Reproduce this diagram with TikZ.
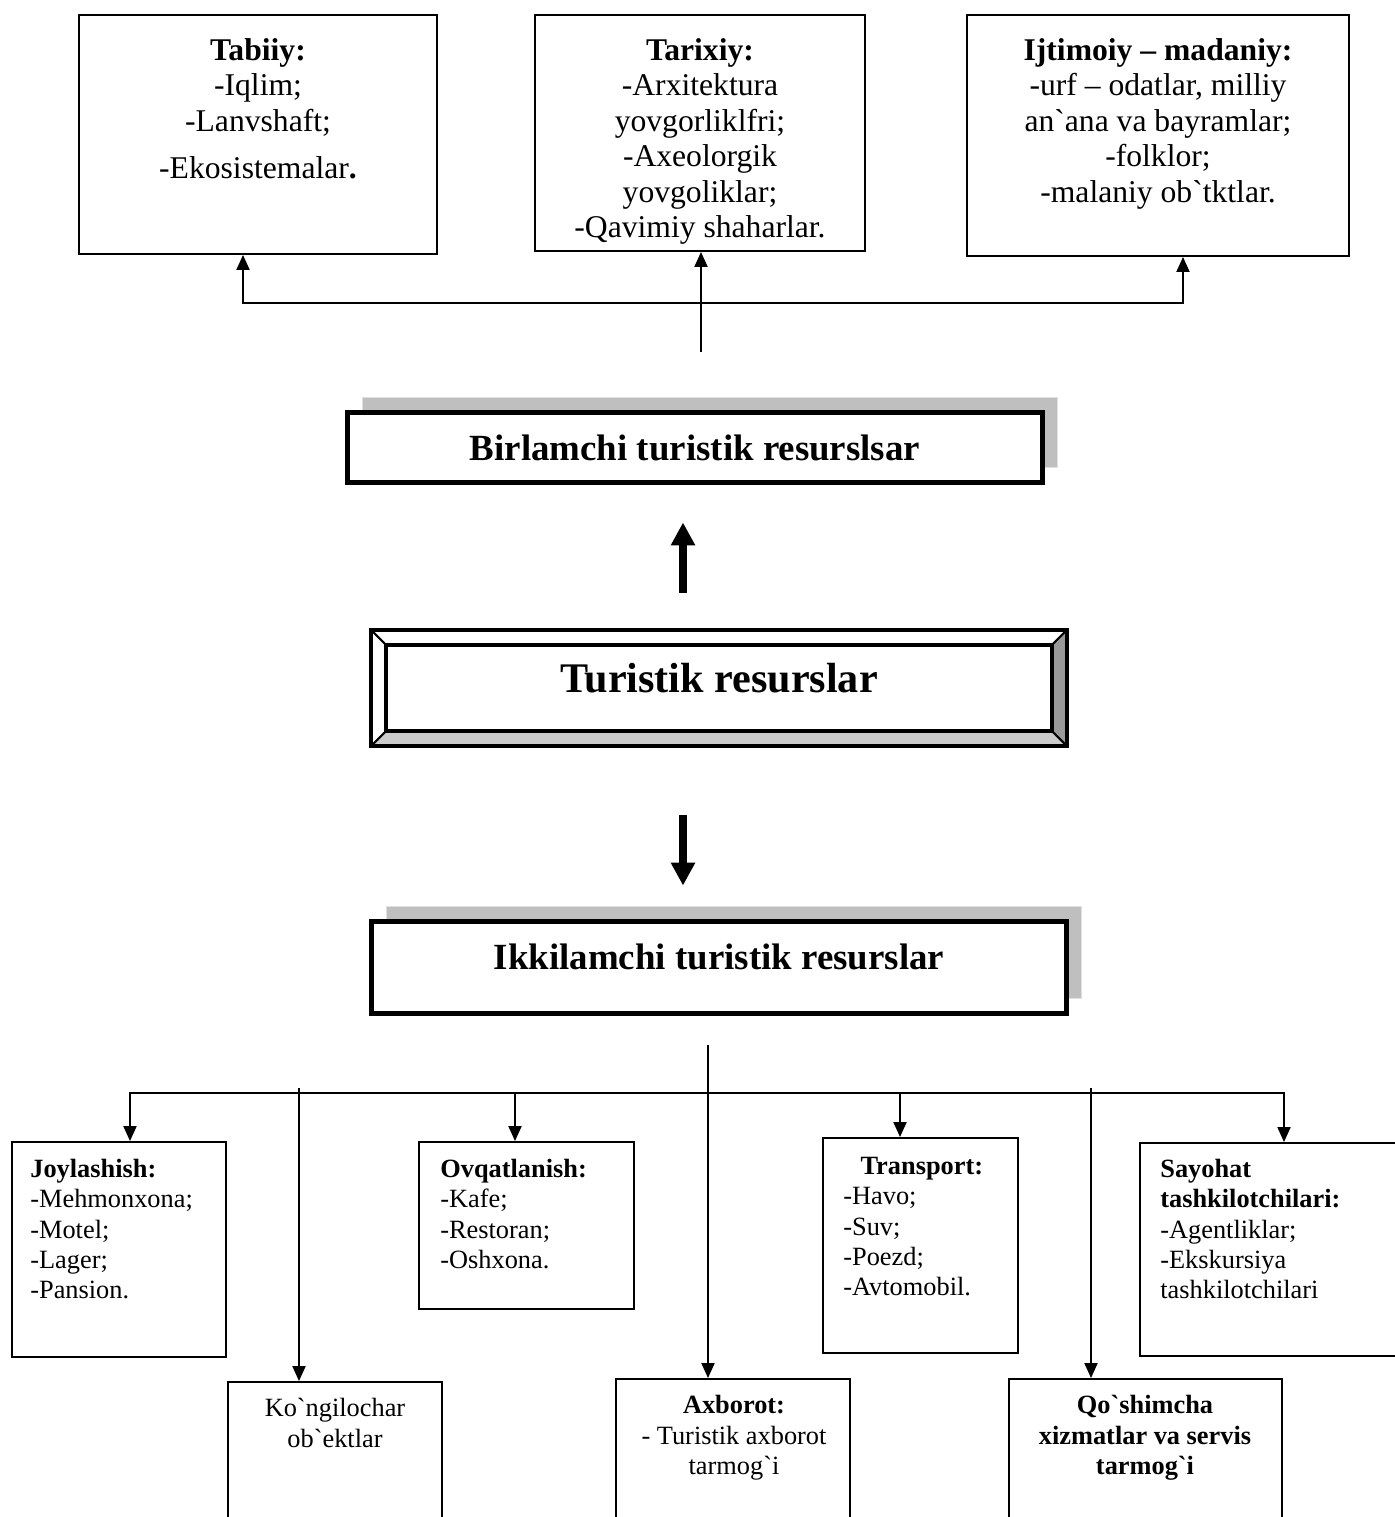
\documentclass[tikz,border=0pt]{standalone}
\usepackage{fontspec}
\setmainfont{Liberation Serif}
\usetikzlibrary{calc,arrows.meta,shadows}
\newcommand{\grv}{\textasciigrave}

\begin{document}
\begin{tikzpicture}[x=0.02cm, y=-0.02cm,
		box/.style={draw, line width=1.1pt, inner sep=0pt},
		bigbox/.style={draw, line width=2.8pt, inner sep=0pt, fill=white,
			general shadow={fill=black!25, draw=black!12, line width=0.6pt, shadow xshift=0.3cm, shadow yshift=0.3cm}},
		toptext/.style={inner sep=0pt, anchor=north, align=center, font=\fontsize{18}{20.2}\selectfont},
		bottext/.style={inner sep=0pt, anchor=north west, align=left, font=\fontsize{15}{17.2}\selectfont},
		midtext/.style={inner sep=0pt, anchor=north, align=center, font=\fontsize{15}{17.4}\selectfont},
		bigtext/.style={inner sep=0pt, font=\bfseries\fontsize{21}{24}\selectfont},
		conn/.style={line width=1.1pt},
		arr/.style={conn, -{Triangle[length=0.3cm, width=0.26cm]}},
		bigarr/.style={line width=4pt, -{Triangle[length=0.46cm, width=0.46cm]}}]
			%%%%% START %%%%%
			\useasboundingbox (0,0) rectangle (1395,1517);
			\clip (0,0) rectangle (1395,1517);
			
			% top row
			\node[box, minimum width=7.16cm, minimum height=4.78cm] (tabiiy) at (258,134.5) {};
			\node[box, minimum width=6.6cm, minimum height=4.72cm] (tarixiy) at (700,133) {};
			\node[box, minimum width=7.64cm, minimum height=4.82cm] (ijtimoiy) at (1158,135.5) {};
			
			\node[toptext] (tabiiytxt) at (258,38) {\textbf{Tabiiy:}\\-Iqlim;\\-Lanvshaft;\\[0.24cm]-Ekosistemalar\textbf{.}};
			\node[toptext] (tarixiytxt) at (700,38) {\textbf{Tarixiy:}\\-Arxitektura\\yovgorliklfri;\\-Axeolorgik\\yovgoliklar;\\-Qavimiy shaharlar.};
			\node[toptext] (ijtimoiytxt) at (1158,38) {\textbf{Ijtimoiy – madaniy:}\\-urf – odatlar, milliy\\an\grv ana va bayramlar;\\-folklor;\\-malaniy ob\grv tktlar.};
			
			\coordinate (topstem) at (701,352);
			\coordinate (topbar) at (701,303);
			\draw[arr] (topstem) -- (topstem |- tarixiy.south);
			\draw[arr] (topbar) -| (243,0 |- tabiiy.south);
			\draw[arr] (topbar) -| (1183,0 |- ijtimoiy.south);
			
			% middle
			\node[bigbox, bigtext, minimum width=13.9cm, minimum height=1.4cm] (birlamchi) at (695,447.5) {Birlamchi turistik resurslsar};
			
			\node[inner sep=0pt, minimum width=13.92cm, minimum height=2.32cm] (turistik) at (719,688) {};
			\coordinate (tinnw) at ($(turistik.north west)+(15,15)$);
			\coordinate (tinne) at ($(turistik.north east)+(-15,15)$);
			\coordinate (tinse) at ($(turistik.south east)+(-15,-15)$);
			\coordinate (tinsw) at ($(turistik.south west)+(15,-15)$);
			\fill[black!40] (turistik.north east) -- (turistik.south east) -- (tinse) -- (tinne) -- cycle;
			\fill[black!20] (turistik.south west) -- (turistik.south east) -- (tinse) -- (tinsw) -- cycle;
			\draw[line width=2.3pt] (turistik.north west) rectangle (turistik.south east);
			\draw[line width=2.3pt] (tinnw) rectangle (tinse);
			\draw[line width=1.2pt] (turistik.north west) -- (tinnw) (turistik.north east) -- (tinne)
				(turistik.south east) -- (tinse) (turistik.south west) -- (tinsw);
			\node[inner sep=0pt, font=\bfseries\fontsize{24}{28}\selectfont] (turistiktxt) at (719,678) {Turistik resurslar};
			
			\node[bigbox, minimum width=13.9cm, minimum height=1.84cm] (ikkilamchi) at (719,967.5) {};
			\node[bigtext] (ikkilamchitxt) at (719,957) {Ikkilamchi turistik resurslar};
			
			\draw[bigarr, shorten <=0.74cm, shorten >=0.75cm] (683,0 |- turistik.north) -- (683,0 |- birlamchi.south);
			\draw[bigarr, shorten <=1.38cm, shorten >=0.67cm] (683,0 |- turistik.south) -- (683,0 |- ikkilamchi.north);
			
			% bottom rows
			\node[box, minimum width=4.28cm, minimum height=4.3cm] (joy) at (119,1249.5) {};
			\node[box, minimum width=4.3cm, minimum height=3.34cm] (ovqat) at (526.5,1225.5) {};
			\node[box, minimum width=3.9cm, minimum height=4.3cm] (transport) at (920.5,1245.5) {};
			\node[box, minimum width=5.6cm, minimum height=4.26cm] (sayohat) at (1280,1249.5) {};
			\node[box, minimum width=4.28cm, minimum height=3.56cm] (kongil) at (335,1471) {};
			\node[box, minimum width=4.68cm, minimum height=3.62cm] (axborot) at (733,1469.5) {};
			\node[box, minimum width=5.46cm, minimum height=3.62cm] (qoshimcha) at (1145.5,1469.5) {};
			
			\node[bottext] (joytxt) at (30,1159) {\textbf{Joylashish:}\\-Mehmonxona;\\-Motel;\\-Lager;\\-Pansion.};
			\node[bottext] (ovqattxt) at (440,1159) {\textbf{Ovqatlanish:}\\-Kafe;\\-Restoran;\\-Oshxona.};
			\node[bottext, text width=3.14cm] (transporttxt) at (843,1157) {\makebox[\hsize]{\textbf{Transport:}}\\-Havo;\\-Suv;\\-Poezd;\\-Avtomobil.};
			\node[bottext] (sayohattxt) at (1160,1159) {\textbf{Sayohat}\\\textbf{tashkilotchilari:}\\-Agentliklar;\\-Ekskursiya\\tashkilotchilari};
			\node[midtext] (kongiltxt) at (335,1398) {Ko\grv ngilochar\\ob\grv ektlar};
			\node[midtext] (axborottxt) at (734,1395) {\textbf{Axborot:}\\- Turistik axborot\\tarmog\grv i};
			\node[midtext, font=\bfseries\fontsize{15}{17.4}\selectfont] (qoshimchatxt) at (1145,1395) {Qo\grv shimcha\\xizmatlar va servis\\tarmog\grv i};
			
			\coordinate (botstem) at (708,1045);
			\coordinate (botbar) at (708,1093);
			\coordinate (kstem) at (299,1088);
			\coordinate (qstem) at (1091,1088);
			\draw[arr] (botstem) -- (botstem |- axborot.north);
			\draw[arr] (botbar) -| (130,0 |- joy.north);
			\draw[arr] (botbar) -| (515,0 |- ovqat.north);
			\draw[arr] (botbar) -| (900,0 |- transport.north);
			\draw[arr] (botbar) -| (1284,0 |- sayohat.north);
			\draw[arr] (kstem) -- (kstem |- kongil.north);
			\draw[arr] (qstem) -- (qstem |- qoshimcha.north);
			
			%%%%% END %%%%%
\end{tikzpicture}
\end{document}
